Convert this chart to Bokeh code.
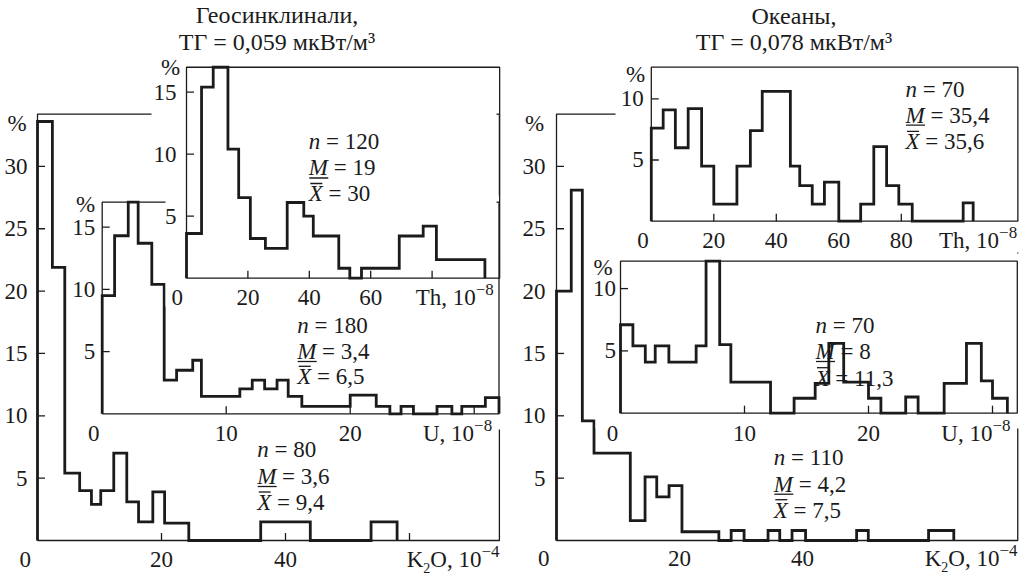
from bokeh.plotting import figure
from bokeh.models import Range1d
from bokeh.core.properties import value
from bokeh.embed import file_html
from bokeh.resources import INLINE

# ------------------------------------------------------------------ data
geo_title = ["Геосинклинали,", "ТГ = 0,059 мкВт/м³"]
oce_title = ["Океаны,", "ТГ = 0,078 мкВт/м³"]

# Geosynclines, K2O (10^-4)
geo_k2o_edges = [0, 2.4, 4.4, 6.8, 8.7, 10.2, 12.3, 14.4, 16.3, 18.6, 20.5, 24.4, 36.0, 44.0, 53.8, 58.0]
geo_k2o_pct = [33.6, 21.9, 5.4, 4.0, 2.9, 4.0, 7.0, 3.1, 1.5, 3.9, 1.4, 0, 1.5, 0, 1.5]
# Geosynclines, U (10^-8)
geo_u_edges = [0, 1.0, 2.1, 2.9, 4.0, 5.0, 6.0, 7.3, 8.0, 11.1, 12.1, 13.1, 14.1, 15.0, 16.1,
               20.0, 22.1, 23.2, 24.1, 25.1, 27.0, 28.2, 29.0, 30.9, 32.0]
geo_u_pct = [9.5, 14.3, 17.0, 13.7, 10.4, 2.7, 3.5, 4.3, 1.4, 2.0, 2.7, 2.0, 2.7, 1.4, 0.6,
             1.5, 0.6, 0, 0.6, 0, 0.6, 0, 0.6, 1.3]
# Geosynclines, Th (10^-8)
geo_th_edges = [0, 4.9, 8.7, 13.5, 17.0, 20.8, 25.7, 32.8, 38.2, 41.3, 49.6, 53.2, 57.0, 69.3, 77.1, 81.4, 97.2]
geo_th_pct = [3.6, 15.4, 17.0, 10.4, 6.5, 3.2, 2.4, 6.1, 5.0, 3.4, 0.8, 0, 0.8, 3.4, 4.2, 1.5]

# Oceans, K2O
oce_k2o_edges = [0, 2.4, 4.2, 6.1, 12.0, 14.4, 16.3, 18.3, 20.4, 26.4, 28.4, 30.5, 34.4, 36.3, 38.3,
                 40.5, 48.8, 50.7, 60.5, 64.6]
oce_k2o_pct = [20.0, 28.1, 9.6, 7.0, 1.6, 5.1, 3.5, 4.4, 0.7, 0, 0.8, 0, 0.8, 0, 0.8, 0, 0.8, 0, 0.8]
# Oceans, U
oce_u_edges = [0, 1.0, 2.0, 2.8, 3.9, 6.1, 6.9, 8.0, 8.9, 12.1, 14.0, 15.7, 16.8, 18.0, 20.0, 21.0,
               23.0, 24.0, 26.1, 27.9, 29.1, 30.0, 31.2]
oce_u_pct = [7.1, 5.4, 4.1, 5.4, 4.1, 5.4, 12.2, 5.5, 2.5, 0, 1.2, 2.4, 5.6, 2.5, 1.2, 0, 1.3, 0,
             2.4, 5.6, 2.6, 1.2]
# Oceans, Th
oce_th_edges = [0, 3.8, 7.7, 11.8, 16.1, 20.0, 27.4, 31.7, 35.5, 44.5, 47.5, 51.5, 55.4, 60.0, 67.0,
                71.2, 75.3, 79.2, 83.5, 99.8, 103.0]
oce_th_pct = [7.6, 9.1, 6.0, 9.2, 4.5, 1.4, 4.5, 7.4, 10.6, 4.5, 2.9, 1.4, 3.2, 0, 1.4, 6.1, 2.9, 1.4, 0, 1.5]

# tick values / labels
k2o_yticks = [5, 10, 15, 20, 25, 30]
k2o_xlabels = [0, 20, 40]
geo_k2o_xmarks = [20, 40, 60]
oce_k2o_xmarks = []
geo_u_yticks = [5, 10, 15]
oce_u_yticks = [5, 10]
u_xlabels = [0, 10, 20]
u_xmarks = [10, 20, 30]
geo_th_yticks = [5, 10, 15]
oce_th_yticks = [5, 10]
geo_th_xlabels = [0, 20, 40, 60]
oce_th_xlabels = [0, 20, 40, 60, 80]
th_xmarks = [20, 40, 60, 80]

# statistics: n, M, mean
geo_k2o_stats = ["80", "3,6", "9,4"]
geo_u_stats = ["180", "3,4", "6,5"]
geo_th_stats = ["120", "19", "30"]
oce_k2o_stats = ["110", "4,2", "7,5"]
oce_u_stats = ["70", "8", "11,3"]
oce_th_stats = ["70", "35,4", "35,6"]

# ------------------------------------------------------------------ layout / style
FONT = "Liberation Serif"
INK = "#1b1b1b"
FS = 23
W, H = 1024, 579
HIST_W = 2.8
BOX_W = 1.3
TICK = 7.5
BASE_FIX = 0.35   # baseline correction (fraction of font size)

# pixel frame of each panel: left x, bottom y, px per unit, box extents
PANELS = {
    "gk": dict(L=37.0, B=540.0, sx=6.2, sy=12.47, xmax=74.5, ymax=34.2),
    "gu": dict(L=101.7, B=413.3, sx=12.4, sy=12.45, xmax=32.0, ymax=17.0),
    "gt": dict(L=186.0, B=277.7, sx=3.07, sy=12.41, xmax=102.0, ymax=17.0),
    "ok": dict(L=556.0, B=540.0, sx=6.15, sy=12.47, xmax=75.0, ymax=34.2),
    "ou": dict(L=620.0, B=412.7, sx=12.4, sy=12.46, xmax=32.0, ymax=12.2),
    "ot": dict(L=650.8, B=220.7, sx=3.125, sy=12.24, xmax=117.3, ymax=12.58),
}

p = figure(width=W, height=H, x_range=Range1d(0, W), y_range=Range1d(H, 0),
           x_axis_type=None, y_axis_type=None, output_backend="svg", toolbar_location=None,
           min_border=0, outline_line_color=None,
           background_fill_color="white", border_fill_color="white")

xr, yr = {}, {}
for name, g in PANELS.items():
    xr[name] = Range1d((0 - g["L"]) / g["sx"], (W - g["L"]) / g["sx"])
    yr[name] = Range1d((g["B"] - H) / g["sy"], (g["B"] - 0) / g["sy"])
p.extra_x_ranges = xr
p.extra_y_ranges = yr

NORMAL_W = {"0": .5, "1": .5, "2": .5, "3": .5, "4": .5, "5": .5, "6": .5, "7": .5, "8": .5, "9": .5,
            ",": .25, " ": .25, "=": .564, "K": .722, "O": .722, "T": .611, "h": .5, "U": .722,
            "\u2212": .564}
ITALIC_W = {"n": .5, "M": .833, "X": .611}


def tw(s, size, italic=False):
    t = ITALIC_W if italic else NORMAL_W
    return sum(t.get(c, .5) for c in s) * size


def txt(x, y, s, size=FS, style="normal", align="left", rng=None, xo=0, yo=0):
    kw = {}
    if rng:
        kw = dict(x_range_name=rng, y_range_name=rng)
    p.text(x=x, y=y, text=s, text_font=value(FONT), text_font_size=f"{size}px",
           text_font_style=style, text_align=align, text_baseline="alphabetic",
           text_color=INK, x_offset=xo, y_offset=yo - BASE_FIX * size, **kw)


def rich_right(x_right, base, pieces):
    total = sum(tw(t, s) for t, s, d in pieces)
    x = x_right - total
    for t, s, d in pieces:
        txt([x], [base + d], [t], size=s)
        x += tw(t, s)


def step_path(edges, pct):
    xs, ys = [edges[0]], [0]
    for i, h in enumerate(pct):
        xs += [edges[i], edges[i + 1]]
        ys += [h, h]
    xs.append(edges[-1])
    ys.append(0)
    return xs, ys


def stats_block(x, bases, vals):
    letters = ["n", "M", "X"]
    for letter, b, v in zip(letters, bases, vals):
        txt([x], [b], [letter], style="italic")
        txt([x + tw(letter, FS, True) + tw(" ", FS)], [b], ["= " + v])
        if letter == "M":
            p.segment(x0=[x + 0.5], y0=[b + 2.0], x1=[x + 19.5], y1=[b + 2.0], line_color=INK, line_width=1.3)
        if letter == "X":
            p.segment(x0=[x + 1.5], y0=[b - 18.5], x1=[x + 13.5], y1=[b - 18.5], line_color=INK, line_width=1.3)


def panel(name, edges, pct, yticks, xlabels, xmarks, axis_pieces, axis_right, pct_pos,
          stats, stats_x, stats_bases, masks=(), zero_off=-9, ylab_right=-9, xlab_dy=27.5):
    g = PANELS[name]
    for (l, r, t, b) in masks:
        p.quad(left=[l], right=[r], top=[t], bottom=[b], fill_color="white", line_color=None)
    xm, ym = g["xmax"], g["ymax"]
    kw = dict(x_range_name=name, y_range_name=name)
    p.line(x=[0, 0, xm, xm, 0], y=[0, ym, ym, 0, 0], line_color=INK, line_width=BOX_W, **kw)
    if yticks:
        p.segment(x0=[0] * len(yticks), y0=yticks, x1=[TICK / g["sx"]] * len(yticks), y1=yticks,
                  line_color=INK, line_width=BOX_W, **kw)
    if xmarks:
        p.segment(x0=xmarks, y0=[0] * len(xmarks), x1=xmarks, y1=[TICK / g["sy"]] * len(xmarks),
                  line_color=INK, line_width=BOX_W, **kw)
    txt([0] * len(yticks), yticks, [str(v) for v in yticks], align="right", rng=name, xo=ylab_right, yo=8)
    zero = [v for v in xlabels if v == 0]
    rest = [v for v in xlabels if v != 0]
    if zero:
        txt([0], [0], ["0"], align="center", rng=name, xo=zero_off, yo=xlab_dy)
    if rest:
        txt(rest, [0] * len(rest), [str(v) for v in rest], align="center", rng=name, yo=xlab_dy)
    rich_right(axis_right, g["B"] + xlab_dy, axis_pieces)
    txt([pct_pos[0]], [pct_pos[1]], ["%"], align="center")
    stats_block(stats_x, stats_bases, stats)
    hx, hy = step_path(edges, pct)
    p.line(x=hx, y=hy, line_color=INK, line_width=HIST_W, line_join="miter", **kw)


K2O_PIECES = [("K", FS, 0), ("2", 14, 5), ("O, 10", FS, 0), ("\u22124", 17, -10)]
U_PIECES = [("U, 10", FS, 0), ("\u22128", 17, -10)]
TH_PIECES = [("Th, 10", FS, 0), ("\u22128", 17, -10)]

# ---- Geosynclines (left)
panel("gk", geo_k2o_edges, geo_k2o_pct, k2o_yticks, k2o_xlabels, geo_k2o_xmarks, K2O_PIECES, 499,
      (16.7, 131), geo_k2o_stats, 256.7, [457.3, 484, 510], zero_off=-12.3, ylab_right=-10,
      xlab_dy=27)
panel("gu", geo_u_edges, geo_u_pct, geo_u_yticks, u_xlabels, u_xmarks, U_PIECES, 491.7,
      (85, 212), geo_u_stats, 296.7, [333.3, 359, 384.3], masks=[(68, 501, 195, 429)],
      zero_off=-8.4, ylab_right=-7, xlab_dy=27.4)
panel("gt", geo_th_edges, geo_th_pct, geo_th_yticks, geo_th_xlabels, th_xmarks, TH_PIECES, 493.3,
      (170, 75), geo_th_stats, 308.3, [149, 175.5, 201.5],
      masks=[(151, 496, 56, 196), (165, 496, 196, 306)],
      zero_off=-9.3, ylab_right=-10, xlab_dy=27.3)

# ---- Oceans (right)
panel("ok", oce_k2o_edges, oce_k2o_pct, k2o_yticks, k2o_xlabels, oce_k2o_xmarks, K2O_PIECES, 1017,
      (534, 131), oce_k2o_stats, 773.3, [465, 491.7, 517.7], zero_off=-12.7, ylab_right=-11,
      xlab_dy=26)
panel("ou", oce_u_edges, oce_u_pct, oce_u_yticks, u_xlabels, u_xmarks, U_PIECES, 1010,
      (602.5, 275), oce_u_stats, 815, [333.3, 359, 385.7], masks=[(595, 1020, 253, 428)],
      zero_off=-8, ylab_right=-4.5, xlab_dy=28)
panel("ot", oce_th_edges, oce_th_pct, oce_th_yticks, oce_th_xlabels, th_xmarks, TH_PIECES, 1016.7,
      (635, 82), oce_th_stats, 905, [96.7, 122.7, 149.3], masks=[(615, 1020, 56, 252)],
      zero_off=-8.3, ylab_right=-7.5, xlab_dy=27.3)

# ---- titles
txt([276.5, 276.5], [23.3, 50], geo_title, size=24, align="center")
txt([793.5, 793.5], [24, 50], oce_title, size=24, align="center")

open("out.html", "w").write(file_html(p, INLINE))
